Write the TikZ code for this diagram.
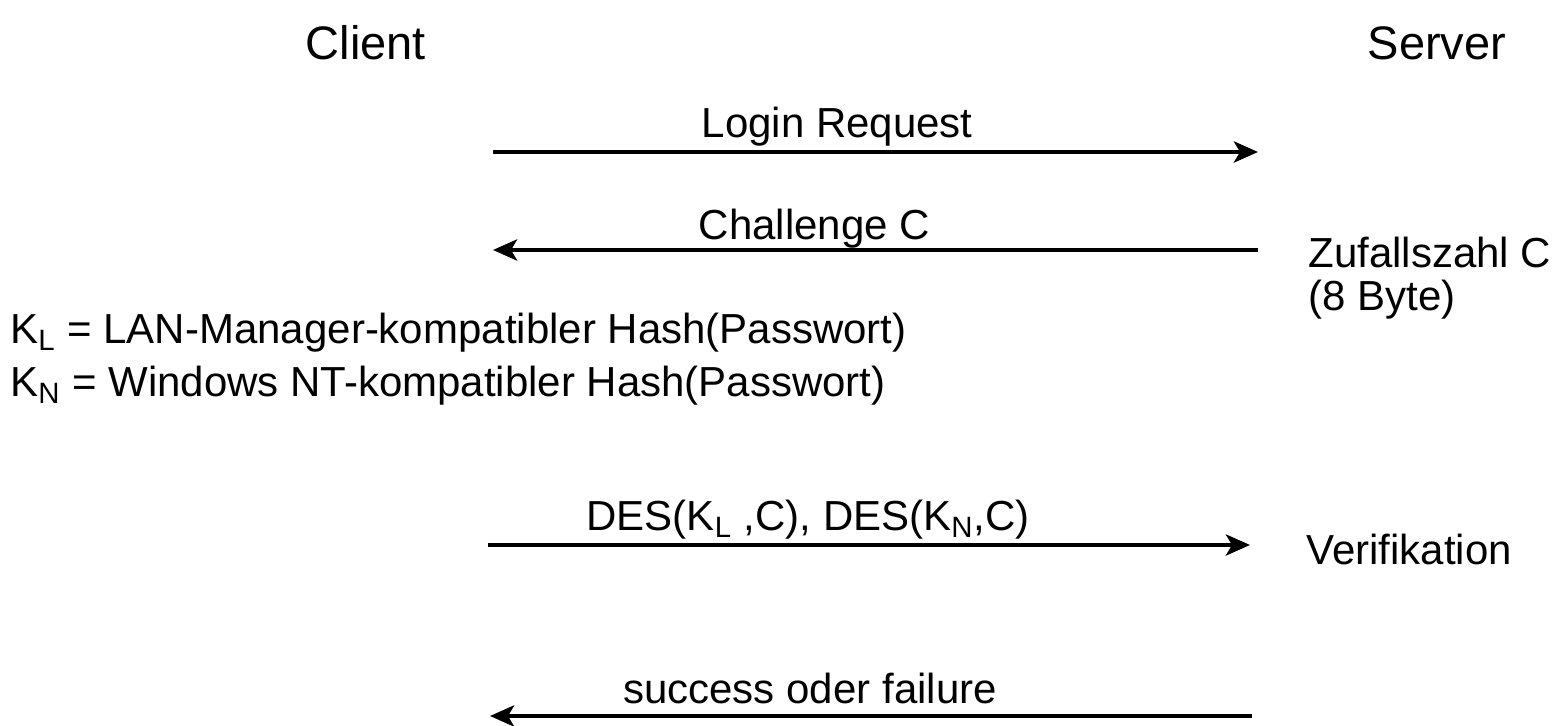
\documentclass[tikz,border=0pt]{standalone}
\usepackage{fontspec}
\setmainfont{Liberation Sans}
\usetikzlibrary{arrows.meta,positioning}
\tikzset{
    %Define standard arrow tip
    >={Stealth[length=12pt,width=10.5pt,inset=3pt]},
    %Define style for the two parties
    partei/.style={
        font=\fontsize{23.5}{27}\selectfont,
        anchor=base,
        inner sep=0pt},
    % Define style for free text
    notiz/.style={
        font=\fontsize{21}{25}\selectfont,
        anchor=base west,
        inner sep=0pt},
    % Define style for message labels
    nachricht/.style={
        font=\fontsize{21}{25}\selectfont,
        anchor=base,
        inner sep=0pt},
    % Define arrow style
    pfeil/.style={
        ->,
        line width=2.4pt}
}
\begin{document}
\begin{tikzpicture}[x=0.5pt,y=-0.5pt]
    \useasboundingbox (0,0) rectangle (1555,726);
    %parties
    \node[partei] (client) at (366,60) {Client};
    \node[partei] (server) at (1437,60) {Server};
    % ends of the messages
    \coordinate (c1) at (493,152);  \coordinate (s1) at (1258,152);
    \coordinate (c2) at (493,250);  \coordinate (s2) at (1258,250);
    \coordinate (c3) at (488,545);  \coordinate (s3) at (1250,545);
    \coordinate (c4) at (490,716);  \coordinate (s4) at (1252,716);
    % messages
    \draw[pfeil] (c1) -- node[nachricht, pos=.45, yshift=7pt] (login) {Login Request} (s1);
    \draw[pfeil] (s2) -- node[nachricht, pos=.58, yshift=5pt] (chall) {Challenge C} (c2);
    \draw[pfeil] (c3) -- node[nachricht, pos=.42, yshift=7pt] (des) {DES(K\textsubscript{L} ,C), DES(K\textsubscript{N},C)} (s3);
    \draw[pfeil] (s4) -- node[nachricht, pos=.58, yshift=6pt] (antwort) {success oder failure} (c4);
    % notes
    \node[notiz] (zufall) at (1308,268) {Zufallszahl C};
    \node[notiz] (byte) at (1308,311) {(8 Byte)};
    \node[notiz] (kl) at (10,344) {K\textsubscript{L} = LAN-Manager-kompatibler Hash(Passwort)};
    \node[notiz] (kn) at (10,397) {K\textsubscript{N} = Windows NT-kompatibler Hash(Passwort)};
    \node[notiz] (verif) at (1306,565) {Verifikation};
\end{tikzpicture}
\end{document}
